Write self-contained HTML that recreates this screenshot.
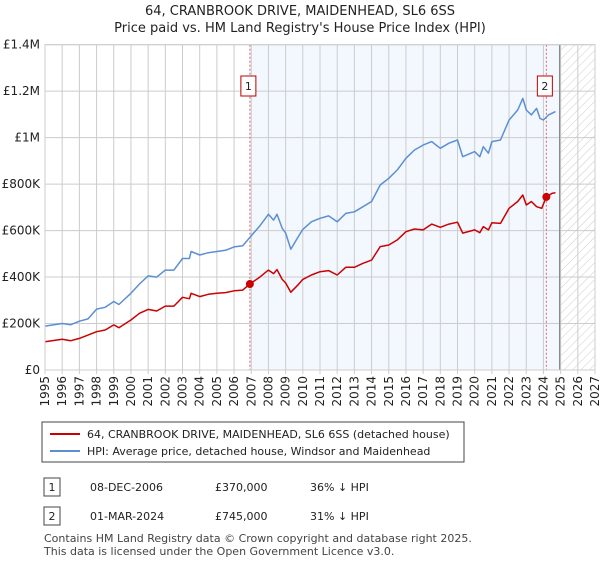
<!DOCTYPE html>
<html><head><meta charset="utf-8"><style>
body{margin:0;background:#fff;font-family:"Liberation Sans","DejaVu Sans",sans-serif;}
svg text{font-family:"DejaVu Sans","Liberation Sans",sans-serif;}
</style></head><body>
<svg width="600" height="560" viewBox="0 0 600 560" xmlns="http://www.w3.org/2000/svg">
<defs><pattern id="hatch" width="6" height="6" patternUnits="userSpaceOnUse" patternTransform="rotate(45)"><line x1="0" y1="0" x2="0" y2="6" stroke="#ccc" stroke-width="1"/></pattern></defs>
<text x="300" y="15" text-anchor="middle" font-size="13" fill="#222">64, CRANBROOK DRIVE, MAIDENHEAD, SL6 6SS</text>
<text x="300" y="32" text-anchor="middle" font-size="13" fill="#222">Price paid vs. HM Land Registry's House Price Index (HPI)</text>
<g id="plot"></g>
<g>
<rect x="42" y="422" width="422" height="40" fill="#fff" stroke="#444"/>
<line x1="50" y1="434" x2="80" y2="434" stroke="#cc0000" stroke-width="2"/>
<text x="87" y="438" font-size="11" fill="#222">64, CRANBROOK DRIVE, MAIDENHEAD, SL6 6SS (detached house)</text>
<line x1="50" y1="451" x2="80" y2="451" stroke="#5b8fd4" stroke-width="2"/>
<text x="87" y="455" font-size="11" fill="#222">HPI: Average price, detached house, Windsor and Maidenhead</text>
</g>
<g font-size="11" fill="#222">
<rect x="44" y="478" width="16" height="18" fill="#fff" stroke="#444"/><text x="52" y="491" text-anchor="middle">1</text>
<text x="90" y="491">08-DEC-2006</text><text x="215" y="491">£370,000</text><text x="310" y="491">36% ↓ HPI</text>
<rect x="44" y="507" width="16" height="18" fill="#fff" stroke="#444"/><text x="52" y="520" text-anchor="middle">2</text>
<text x="90" y="520">01-MAR-2024</text><text x="215" y="520">£745,000</text><text x="310" y="520">31% ↓ HPI</text>
</g>
<text x="44" y="542" font-size="11" fill="#444">Contains HM Land Registry data © Crown copyright and database right 2025.</text>
<text x="44" y="555" font-size="11" fill="#444">This data is licensed under the Open Government Licence v3.0.</text>
</svg>
<script>
const hpiYears=[1995,1996,1996.5,1997,1997.5,1998,1998.5,1999,1999.3,2000,2000.5,2001,2001.5,2002,2002.5,2003,2003.4,2003.5,2004,2004.5,2005,2005.5,2006,2006.5,2007,2007.5,2008,2008.3,2008.5,2008.8,2009,2009.3,2009.7,2010,2010.5,2011,2011.5,2012,2012.5,2013,2013.5,2014,2014.5,2015,2015.5,2016,2016.5,2017,2017.5,2018,2018.5,2019,2019.3,2020,2020.3,2020.5,2020.8,2021,2021.5,2022,2022.5,2022.8,2023,2023.3,2023.6,2023.8,2024,2024.3,2024.7];
const hpiValues=[189,200,195,210,220,262,270,295,282,330,370,405,400,430,430,480,480,510,495,505,510,515,530,535,578,620,670,645,670,610,590,520,570,605,638,653,663,638,674,681,703,725,796,825,861,911,947,968,983,954,976,990,918,940,918,961,933,983,990,1076,1119,1169,1119,1098,1126,1083,1076,1098,1112];
const priceYears=[1995,1996,1996.5,1997,1997.5,1998,1998.5,1999,1999.3,2000,2000.5,2001,2001.5,2002,2002.5,2003,2003.4,2003.5,2004,2004.5,2005,2005.5,2006,2006.5,2006.92,2007.5,2008,2008.3,2008.5,2008.8,2009,2009.3,2009.7,2010,2010.5,2011,2011.5,2012,2012.5,2013,2013.5,2014,2014.5,2015,2015.5,2016,2016.5,2017,2017.5,2018,2018.5,2019,2019.3,2020,2020.3,2020.5,2020.8,2021,2021.5,2022,2022.5,2022.8,2023,2023.3,2023.6,2023.9,2024.17,2024.5,2024.7];
const priceValues=[122,132,126,136,150,165,172,194,182,215,244,261,254,275,275,313,307,330,316,326,330,333,341,344,370,400,430,415,432,390,375,335,365,390,409,423,428,409,442,442,459,473,531,538,560,595,607,603,628,614,628,636,589,603,591,617,603,634,631,696,725,753,710,725,703,696,745,760,763];
const saleYears=[2006.92,2024.17];
const saleValues=[370,745];
const saleLabels=["1","2"];
const yTickValues=[0,200,400,600,800,1000,1200,1400];
const yTickLabels=["£0","£200K","£400K","£600K","£800K","£1M","£1.2M","£1.4M"];
const xTickYears=[1995,1996,1997,1998,1999,2000,2001,2002,2003,2004,2005,2006,2007,2008,2009,2010,2011,2012,2013,2014,2015,2016,2017,2018,2019,2020,2021,2022,2023,2024,2025,2026,2027];

const L=45,R=595,T=44.7,B=370,x0=1995,x1=2027,yMax=1400,dataEnd=2025;
const X=y=>L+(y-x0)/(x1-x0)*(R-L);
const Y=v=>B-v/yMax*(B-T);
const NS="http://www.w3.org/2000/svg";
const g=document.getElementById('plot');
function mk(tag,attrs,parent){const e=document.createElementNS(NS,tag);for(const k in attrs)e.setAttribute(k,attrs[k]);(parent||g).appendChild(e);return e;}

let e=mk('rect',{x:X(saleYears[0]),y:T,width:X(dataEnd)-X(saleYears[0]),height:B-T,fill:'#eef3fd',opacity:0.7});


e=mk('rect',{x:X(dataEnd),y:T,width:R-X(dataEnd),height:B-T,fill:'url(#hatch)'});



yTickValues.forEach((v,i)=>{
  let l=mk('line',{x1:L,x2:R,y1:Y(v),y2:Y(v),stroke:'#ccc','stroke-width':1});
  
  
  let t=mk('text',{x:L-5,y:Y(v)+4,'text-anchor':'end','font-size':12,fill:'#222'});
  t.textContent=yTickLabels[i];
  
  
});
xTickYears.forEach(yr=>{
  let l=mk('line',{x1:X(yr),x2:X(yr),y1:T,y2:B+4,stroke:'#ccc','stroke-width':1});
  
  
  let t=mk('text',{x:0,y:0,'text-anchor':'end','font-size':12,fill:'#222',transform:`translate(${X(yr)+4},${B+6}) rotate(-90)`});
  t.textContent=yr;
  
  
});
e=mk('line',{x1:X(dataEnd)-1,x2:X(dataEnd)-1,y1:T,y2:B,stroke:'#888','stroke-width':1.2});



saleYears.forEach((yr,i)=>{
  let l=mk('line',{x1:X(yr),x2:X(yr),y1:T,y2:B,stroke:'#e06666','stroke-width':1,'stroke-dasharray':'2,2'});
  
  
  let r=mk('rect',{x:X(yr)-9,y:76,width:15,height:20,fill:'#fff',stroke:'#b00'});
  
  
  let t=mk('text',{x:X(yr)-1.5,y:90,'text-anchor':'middle','font-size':11,fill:'#222'});
  t.textContent=saleLabels[i];
  
  
});

function line(xs,vs,color,name){
  const p=mk('path',{d:xs.map((yr,i)=>(i?'L':'M')+X(yr).toFixed(1)+','+Y(vs[i]).toFixed(1)).join(''),fill:'none',stroke:color,'stroke-width':1.5,'stroke-linejoin':'round'});
  
  
}
line(hpiYears,hpiValues,'#5b8fd4','hpi-line');
line(priceYears,priceValues,'#cc0000','price-paid-line');
saleYears.forEach((yr,i)=>{
  let c=mk('circle',{cx:X(yr),cy:Y(saleValues[i]),r:4,fill:'#cc0000'});
  
  
});
e=mk('rect',{x:L,y:T,width:R-L,height:B-T,fill:'none',stroke:'#ccc'});


</script>
</body></html>
